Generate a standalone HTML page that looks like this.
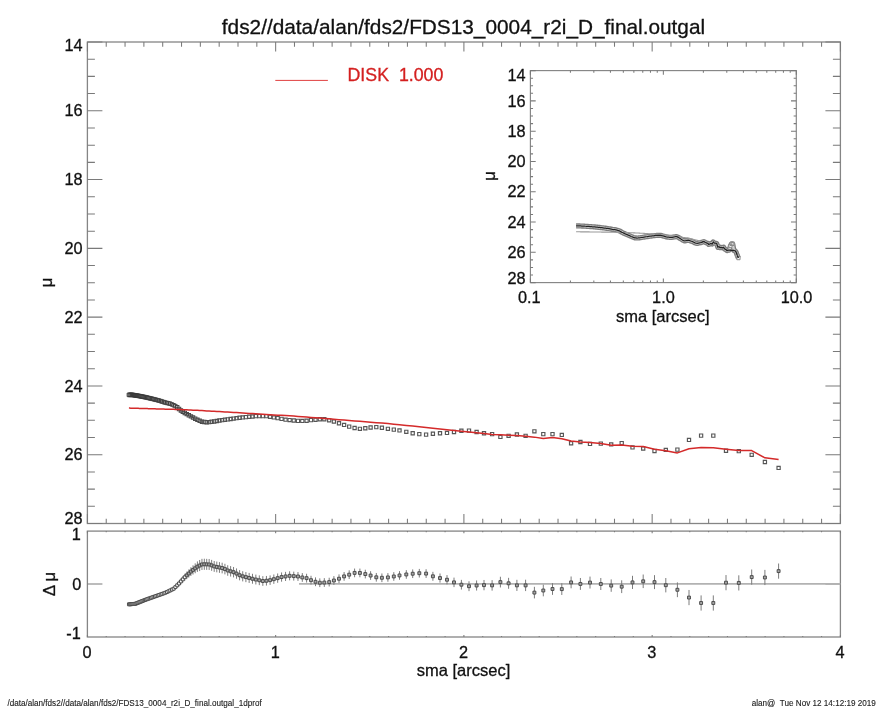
<!DOCTYPE html><html><head><meta charset="utf-8"><style>html,body{margin:0;padding:0;background:#fff;}svg{display:block}text{font-family:"Liberation Sans",Arial,sans-serif;}</style></head><body>
<svg width="885" height="708" viewBox="0 0 885 708">
<rect x="87.4" y="42.0" width="753.00" height="481.50" stroke="#858585" stroke-width="1.3" fill="none"/>
<path d="M87.40 523.5v-9.6M87.40 42.0v9.6M106.23 523.5v-4.8M106.23 42.0v4.8M125.05 523.5v-4.8M125.05 42.0v4.8M143.88 523.5v-4.8M143.88 42.0v4.8M162.70 523.5v-4.8M162.70 42.0v4.8M181.53 523.5v-4.8M181.53 42.0v4.8M200.35 523.5v-4.8M200.35 42.0v4.8M219.18 523.5v-4.8M219.18 42.0v4.8M238.00 523.5v-4.8M238.00 42.0v4.8M256.83 523.5v-4.8M256.83 42.0v4.8M275.65 523.5v-9.6M275.65 42.0v9.6M294.48 523.5v-4.8M294.48 42.0v4.8M313.30 523.5v-4.8M313.30 42.0v4.8M332.12 523.5v-4.8M332.12 42.0v4.8M350.95 523.5v-4.8M350.95 42.0v4.8M369.77 523.5v-4.8M369.77 42.0v4.8M388.60 523.5v-4.8M388.60 42.0v4.8M407.42 523.5v-4.8M407.42 42.0v4.8M426.25 523.5v-4.8M426.25 42.0v4.8M445.08 523.5v-4.8M445.08 42.0v4.8M463.90 523.5v-9.6M463.90 42.0v9.6M482.73 523.5v-4.8M482.73 42.0v4.8M501.55 523.5v-4.8M501.55 42.0v4.8M520.38 523.5v-4.8M520.38 42.0v4.8M539.20 523.5v-4.8M539.20 42.0v4.8M558.02 523.5v-4.8M558.02 42.0v4.8M576.85 523.5v-4.8M576.85 42.0v4.8M595.68 523.5v-4.8M595.68 42.0v4.8M614.50 523.5v-4.8M614.50 42.0v4.8M633.32 523.5v-4.8M633.32 42.0v4.8M652.15 523.5v-9.6M652.15 42.0v9.6M670.98 523.5v-4.8M670.98 42.0v4.8M689.80 523.5v-4.8M689.80 42.0v4.8M708.62 523.5v-4.8M708.62 42.0v4.8M727.45 523.5v-4.8M727.45 42.0v4.8M746.27 523.5v-4.8M746.27 42.0v4.8M765.10 523.5v-4.8M765.10 42.0v4.8M783.92 523.5v-4.8M783.92 42.0v4.8M802.75 523.5v-4.8M802.75 42.0v4.8M821.57 523.5v-4.8M821.57 42.0v4.8M840.40 523.5v-9.6M840.40 42.0v9.6M87.4 42.00h15.0M840.4 42.00h-15.0M87.4 59.20h7.5M840.4 59.20h-7.5M87.4 76.39h7.5M840.4 76.39h-7.5M87.4 93.59h7.5M840.4 93.59h-7.5M87.4 110.79h15.0M840.4 110.79h-15.0M87.4 127.98h7.5M840.4 127.98h-7.5M87.4 145.18h7.5M840.4 145.18h-7.5M87.4 162.38h7.5M840.4 162.38h-7.5M87.4 179.57h15.0M840.4 179.57h-15.0M87.4 196.77h7.5M840.4 196.77h-7.5M87.4 213.96h7.5M840.4 213.96h-7.5M87.4 231.16h7.5M840.4 231.16h-7.5M87.4 248.36h15.0M840.4 248.36h-15.0M87.4 265.55h7.5M840.4 265.55h-7.5M87.4 282.75h7.5M840.4 282.75h-7.5M87.4 299.95h7.5M840.4 299.95h-7.5M87.4 317.14h15.0M840.4 317.14h-15.0M87.4 334.34h7.5M840.4 334.34h-7.5M87.4 351.54h7.5M840.4 351.54h-7.5M87.4 368.73h7.5M840.4 368.73h-7.5M87.4 385.93h15.0M840.4 385.93h-15.0M87.4 403.12h7.5M840.4 403.12h-7.5M87.4 420.32h7.5M840.4 420.32h-7.5M87.4 437.52h7.5M840.4 437.52h-7.5M87.4 454.71h15.0M840.4 454.71h-15.0M87.4 471.91h7.5M840.4 471.91h-7.5M87.4 489.11h7.5M840.4 489.11h-7.5M87.4 506.30h7.5M840.4 506.30h-7.5M87.4 523.50h15.0M840.4 523.50h-15.0" stroke="#7a7a7a" stroke-width="1.05"/>
<rect x="87.4" y="531.1" width="753.00" height="105.90" stroke="#858585" stroke-width="1.3" fill="none"/>
<path d="M87.40 637.0v-2.1M87.40 531.1v2.1M106.23 637.0v-1.1M106.23 531.1v1.1M125.05 637.0v-1.1M125.05 531.1v1.1M143.88 637.0v-1.1M143.88 531.1v1.1M162.70 637.0v-1.1M162.70 531.1v1.1M181.53 637.0v-1.1M181.53 531.1v1.1M200.35 637.0v-1.1M200.35 531.1v1.1M219.18 637.0v-1.1M219.18 531.1v1.1M238.00 637.0v-1.1M238.00 531.1v1.1M256.83 637.0v-1.1M256.83 531.1v1.1M275.65 637.0v-2.1M275.65 531.1v2.1M294.48 637.0v-1.1M294.48 531.1v1.1M313.30 637.0v-1.1M313.30 531.1v1.1M332.12 637.0v-1.1M332.12 531.1v1.1M350.95 637.0v-1.1M350.95 531.1v1.1M369.77 637.0v-1.1M369.77 531.1v1.1M388.60 637.0v-1.1M388.60 531.1v1.1M407.42 637.0v-1.1M407.42 531.1v1.1M426.25 637.0v-1.1M426.25 531.1v1.1M445.08 637.0v-1.1M445.08 531.1v1.1M463.90 637.0v-2.1M463.90 531.1v2.1M482.73 637.0v-1.1M482.73 531.1v1.1M501.55 637.0v-1.1M501.55 531.1v1.1M520.38 637.0v-1.1M520.38 531.1v1.1M539.20 637.0v-1.1M539.20 531.1v1.1M558.02 637.0v-1.1M558.02 531.1v1.1M576.85 637.0v-1.1M576.85 531.1v1.1M595.68 637.0v-1.1M595.68 531.1v1.1M614.50 637.0v-1.1M614.50 531.1v1.1M633.32 637.0v-1.1M633.32 531.1v1.1M652.15 637.0v-2.1M652.15 531.1v2.1M670.98 637.0v-1.1M670.98 531.1v1.1M689.80 637.0v-1.1M689.80 531.1v1.1M708.62 637.0v-1.1M708.62 531.1v1.1M727.45 637.0v-1.1M727.45 531.1v1.1M746.27 637.0v-1.1M746.27 531.1v1.1M765.10 637.0v-1.1M765.10 531.1v1.1M783.92 637.0v-1.1M783.92 531.1v1.1M802.75 637.0v-1.1M802.75 531.1v1.1M821.57 637.0v-1.1M821.57 531.1v1.1M840.40 637.0v-2.1M840.40 531.1v2.1M87.4 583.9h15M840.4 583.9h-15" stroke="#7a7a7a" stroke-width="1.05"/>
<path d="M299 583.9H840.4" stroke="#b2b2b2" stroke-width="1.8"/>
<rect x="530.4" y="70.6" width="265.90" height="212.00" stroke="#858585" stroke-width="1.15" fill="none"/>
<path d="M530.40 282.6v-4.2M530.40 70.6v4.2M570.42 282.6v-2.1M570.42 70.6v2.1M593.83 282.6v-2.1M593.83 70.6v2.1M610.44 282.6v-2.1M610.44 70.6v2.1M623.33 282.6v-2.1M623.33 70.6v2.1M633.86 282.6v-2.1M633.86 70.6v2.1M642.76 282.6v-2.1M642.76 70.6v2.1M650.47 282.6v-2.1M650.47 70.6v2.1M657.27 282.6v-2.1M657.27 70.6v2.1M663.35 282.6v-4.2M663.35 70.6v4.2M663.35 282.6v-4.2M663.35 70.6v4.2M703.37 282.6v-2.1M703.37 70.6v2.1M726.78 282.6v-2.1M726.78 70.6v2.1M743.39 282.6v-2.1M743.39 70.6v2.1M756.28 282.6v-2.1M756.28 70.6v2.1M766.81 282.6v-2.1M766.81 70.6v2.1M775.71 282.6v-2.1M775.71 70.6v2.1M783.42 282.6v-2.1M783.42 70.6v2.1M790.22 282.6v-2.1M790.22 70.6v2.1M796.30 282.6v-4.2M796.30 70.6v4.2M530.4 70.60h5.3M796.3 70.60h-5.3M530.4 78.17h2.65M796.3 78.17h-2.65M530.4 85.74h2.65M796.3 85.74h-2.65M530.4 93.31h2.65M796.3 93.31h-2.65M530.4 100.89h5.3M796.3 100.89h-5.3M530.4 108.46h2.65M796.3 108.46h-2.65M530.4 116.03h2.65M796.3 116.03h-2.65M530.4 123.60h2.65M796.3 123.60h-2.65M530.4 131.17h5.3M796.3 131.17h-5.3M530.4 138.74h2.65M796.3 138.74h-2.65M530.4 146.31h2.65M796.3 146.31h-2.65M530.4 153.89h2.65M796.3 153.89h-2.65M530.4 161.46h5.3M796.3 161.46h-5.3M530.4 169.03h2.65M796.3 169.03h-2.65M530.4 176.60h2.65M796.3 176.60h-2.65M530.4 184.17h2.65M796.3 184.17h-2.65M530.4 191.74h5.3M796.3 191.74h-5.3M530.4 199.31h2.65M796.3 199.31h-2.65M530.4 206.89h2.65M796.3 206.89h-2.65M530.4 214.46h2.65M796.3 214.46h-2.65M530.4 222.03h5.3M796.3 222.03h-5.3M530.4 229.60h2.65M796.3 229.60h-2.65M530.4 237.17h2.65M796.3 237.17h-2.65M530.4 244.74h2.65M796.3 244.74h-2.65M530.4 252.31h5.3M796.3 252.31h-5.3M530.4 259.89h2.65M796.3 259.89h-2.65M530.4 267.46h2.65M796.3 267.46h-2.65M530.4 275.03h2.65M796.3 275.03h-2.65M530.4 282.60h5.3M796.3 282.60h-5.3" stroke="#7a7a7a" stroke-width="1.05"/>
<g fill="none"><path d="M127.13 393.07h3.60v3.60h-3.60z" stroke="#383838" stroke-width="0.90"/><path d="M127.98 393.05h3.60v3.60h-3.60z" stroke="#383838" stroke-width="0.90"/><path d="M128.85 393.03h3.60v3.60h-3.60z" stroke="#383838" stroke-width="0.90"/><path d="M129.74 393.01h3.60v3.60h-3.60z" stroke="#383838" stroke-width="0.90"/><path d="M130.64 393.10h3.60v3.60h-3.60z" stroke="#383838" stroke-width="0.90"/><path d="M131.57 393.25h3.60v3.60h-3.60z" stroke="#383838" stroke-width="0.90"/><path d="M132.51 393.41h3.60v3.60h-3.60z" stroke="#383838" stroke-width="0.90"/><path d="M133.47 393.56h3.60v3.60h-3.60z" stroke="#383838" stroke-width="0.90"/><path d="M134.45 393.72h3.60v3.60h-3.60z" stroke="#383838" stroke-width="0.90"/><path d="M135.46 393.88h3.60v3.60h-3.60z" stroke="#383838" stroke-width="0.90"/><path d="M136.48 394.05h3.59v3.59h-3.59z" stroke="#383838" stroke-width="0.91"/><path d="M137.53 394.25h3.59v3.59h-3.59z" stroke="#383838" stroke-width="0.91"/><path d="M138.59 394.45h3.58v3.58h-3.58z" stroke="#393939" stroke-width="0.91"/><path d="M139.68 394.67h3.58v3.58h-3.58z" stroke="#393939" stroke-width="0.91"/><path d="M140.79 394.88h3.57v3.57h-3.57z" stroke="#393939" stroke-width="0.92"/><path d="M141.92 395.11h3.57v3.57h-3.57z" stroke="#3a3a3a" stroke-width="0.92"/><path d="M143.08 395.33h3.56v3.56h-3.56z" stroke="#3a3a3a" stroke-width="0.92"/><path d="M144.26 395.59h3.56v3.56h-3.56z" stroke="#3b3b3b" stroke-width="0.93"/><path d="M145.47 395.88h3.55v3.55h-3.55z" stroke="#3b3b3b" stroke-width="0.93"/><path d="M146.70 396.17h3.55v3.55h-3.55z" stroke="#3b3b3b" stroke-width="0.93"/><path d="M147.95 396.47h3.54v3.54h-3.54z" stroke="#3c3c3c" stroke-width="0.93"/><path d="M149.23 396.77h3.54v3.54h-3.54z" stroke="#3c3c3c" stroke-width="0.94"/><path d="M150.54 397.08h3.53v3.53h-3.53z" stroke="#3c3c3c" stroke-width="0.94"/><path d="M151.87 397.42h3.53v3.53h-3.53z" stroke="#3d3d3d" stroke-width="0.94"/><path d="M153.23 397.76h3.52v3.52h-3.52z" stroke="#3d3d3d" stroke-width="0.95"/><path d="M154.62 398.11h3.52v3.52h-3.52z" stroke="#3e3e3e" stroke-width="0.95"/><path d="M156.04 398.47h3.51v3.51h-3.51z" stroke="#3e3e3e" stroke-width="0.96"/><path d="M157.48 398.86h3.51v3.51h-3.51z" stroke="#3f3f3f" stroke-width="0.96"/><path d="M158.96 399.34h3.50v3.50h-3.50z" stroke="#3f3f3f" stroke-width="0.96"/><path d="M160.46 399.84h3.49v3.49h-3.49z" stroke="#404040" stroke-width="0.97"/><path d="M162.00 400.34h3.49v3.49h-3.49z" stroke="#404040" stroke-width="0.97"/><path d="M163.57 400.83h3.48v3.48h-3.48z" stroke="#404040" stroke-width="0.97"/><path d="M165.17 401.21h3.47v3.47h-3.47z" stroke="#414141" stroke-width="0.98"/><path d="M166.80 401.59h3.47v3.47h-3.47z" stroke="#414141" stroke-width="0.98"/><path d="M168.47 401.98h3.46v3.46h-3.46z" stroke="#424242" stroke-width="0.99"/><path d="M170.17 402.69h3.45v3.45h-3.45z" stroke="#424242" stroke-width="0.99"/><path d="M171.91 403.51h3.45v3.45h-3.45z" stroke="#434343" stroke-width="1.00"/><path d="M173.68 404.35h3.44v3.44h-3.44z" stroke="#444444" stroke-width="1.00"/><path d="M175.48 405.60h3.43v3.43h-3.43z" stroke="#444444" stroke-width="1.01"/><path d="M177.33 407.29h3.42v3.42h-3.42z" stroke="#454545" stroke-width="1.01"/><path d="M179.21 408.70h3.42v3.42h-3.42z" stroke="#454545" stroke-width="1.01"/><path d="M181.13 409.99h3.41v3.41h-3.41z" stroke="#464646" stroke-width="1.02"/><path d="M183.09 411.30h3.40v3.40h-3.40z" stroke="#464646" stroke-width="1.02"/><path d="M185.09 412.41h3.39v3.39h-3.39z" stroke="#474747" stroke-width="1.03"/><path d="M187.14 413.54h3.38v3.38h-3.38z" stroke="#484848" stroke-width="1.03"/><path d="M189.22 414.69h3.38v3.38h-3.38z" stroke="#484848" stroke-width="1.04"/><path d="M191.35 415.85h3.37v3.37h-3.37z" stroke="#494949" stroke-width="1.05"/><path d="M193.51 417.03h3.36v3.36h-3.36z" stroke="#4a4a4a" stroke-width="1.05"/><path d="M195.73 418.11h3.35v3.35h-3.35z" stroke="#4a4a4a" stroke-width="1.06"/><path d="M197.99 419.12h3.34v3.34h-3.34z" stroke="#4b4b4b" stroke-width="1.06"/><path d="M200.29 420.06h3.33v3.33h-3.33z" stroke="#4c4c4c" stroke-width="1.07"/><path d="M202.65 420.31h3.32v3.32h-3.32z" stroke="#4c4c4c" stroke-width="1.07"/><path d="M205.05 420.57h3.31v3.31h-3.31z" stroke="#4d4d4d" stroke-width="1.08"/><path d="M207.50 420.43h3.30v3.30h-3.30z" stroke="#4e4e4e" stroke-width="1.09"/><path d="M210.00 420.13h3.29v3.29h-3.29z" stroke="#4f4f4f" stroke-width="1.09"/><path d="M212.55 419.82h3.28v3.28h-3.28z" stroke="#4f4f4f" stroke-width="1.10"/><path d="M215.16 419.38h3.27v3.27h-3.27z" stroke="#505050" stroke-width="1.11"/><path d="M217.82 418.90h3.26v3.26h-3.26z" stroke="#515151" stroke-width="1.11"/><path d="M220.53 418.48h3.25v3.25h-3.25z" stroke="#525252" stroke-width="1.12"/><path d="M223.30 418.12h3.24v3.24h-3.24z" stroke="#535353" stroke-width="1.13"/><path d="M226.12 417.75h3.22v3.22h-3.22z" stroke="#545454" stroke-width="1.13"/><path d="M229.00 417.38h3.21v3.21h-3.21z" stroke="#555555" stroke-width="1.14"/><path d="M231.95 416.99h3.20v3.20h-3.20z" stroke="#555555" stroke-width="1.15"/><path d="M234.94 416.59h3.20v3.20h-3.20z" stroke="#565656" stroke-width="1.15"/><path d="M238.00 416.19h3.20v3.20h-3.20z" stroke="#565656" stroke-width="1.15"/><path d="M241.12 415.83h3.20v3.20h-3.20z" stroke="#565656" stroke-width="1.15"/><path d="M244.30 415.51h3.20v3.20h-3.20z" stroke="#565656" stroke-width="1.15"/><path d="M247.55 415.18h3.20v3.20h-3.20z" stroke="#565656" stroke-width="1.15"/><path d="M250.87 414.85h3.20v3.20h-3.20z" stroke="#565656" stroke-width="1.15"/><path d="M254.25 414.50h3.20v3.20h-3.20z" stroke="#565656" stroke-width="1.15"/><path d="M257.71 414.50h3.20v3.20h-3.20z" stroke="#565656" stroke-width="1.15"/><path d="M261.23 414.50h3.20v3.20h-3.20z" stroke="#565656" stroke-width="1.15"/><path d="M264.83 414.50h3.20v3.20h-3.20z" stroke="#565656" stroke-width="1.15"/><path d="M268.50 415.11h3.20v3.20h-3.20z" stroke="#565656" stroke-width="1.15"/><path d="M272.24 415.80h3.20v3.20h-3.20z" stroke="#565656" stroke-width="1.15"/><path d="M276.06 416.53h3.20v3.20h-3.20z" stroke="#565656" stroke-width="1.15"/><path d="M279.97 417.28h3.20v3.20h-3.20z" stroke="#565656" stroke-width="1.15"/><path d="M283.95 418.05h3.20v3.20h-3.20z" stroke="#565656" stroke-width="1.15"/><path d="M288.01 418.47h3.20v3.20h-3.20z" stroke="#565656" stroke-width="1.15"/><path d="M292.15 418.87h3.20v3.20h-3.20z" stroke="#565656" stroke-width="1.15"/><path d="M296.38 419.27h3.20v3.20h-3.20z" stroke="#565656" stroke-width="1.15"/><path d="M300.70 419.30h3.20v3.20h-3.20z" stroke="#565656" stroke-width="1.15"/><path d="M305.00 419.10h3.20v3.20h-3.20z" stroke="#565656" stroke-width="1.15"/><path d="M309.40 418.50h3.20v3.20h-3.20z" stroke="#565656" stroke-width="1.15"/><path d="M313.90 418.20h3.20v3.20h-3.20z" stroke="#565656" stroke-width="1.15"/><path d="M318.20 417.60h3.20v3.20h-3.20z" stroke="#565656" stroke-width="1.15"/><path d="M322.70 417.60h3.20v3.20h-3.20z" stroke="#565656" stroke-width="1.15"/><path d="M327.60 418.70h3.20v3.20h-3.20z" stroke="#565656" stroke-width="1.15"/><path d="M332.30 419.90h3.20v3.20h-3.20z" stroke="#565656" stroke-width="1.15"/><path d="M337.40 421.60h3.20v3.20h-3.20z" stroke="#565656" stroke-width="1.15"/><path d="M342.50 423.30h3.20v3.20h-3.20z" stroke="#565656" stroke-width="1.15"/><path d="M347.60 425.00h3.20v3.20h-3.20z" stroke="#565656" stroke-width="1.15"/><path d="M353.00 426.40h3.20v3.20h-3.20z" stroke="#565656" stroke-width="1.15"/><path d="M358.30 427.20h3.20v3.20h-3.20z" stroke="#565656" stroke-width="1.15"/><path d="M363.70 426.60h3.20v3.20h-3.20z" stroke="#565656" stroke-width="1.15"/><path d="M369.00 425.90h3.20v3.20h-3.20z" stroke="#565656" stroke-width="1.15"/><path d="M374.70 425.50h3.20v3.20h-3.20z" stroke="#565656" stroke-width="1.15"/><path d="M380.30 426.10h3.20v3.20h-3.20z" stroke="#565656" stroke-width="1.15"/><path d="M386.30 427.20h3.20v3.20h-3.20z" stroke="#565656" stroke-width="1.15"/><path d="M392.20 428.00h3.20v3.20h-3.20z" stroke="#565656" stroke-width="1.15"/><path d="M397.90 428.80h3.20v3.20h-3.20z" stroke="#565656" stroke-width="1.15"/><path d="M404.70 430.20h3.20v3.20h-3.20z" stroke="#565656" stroke-width="1.15"/><path d="M411.10 431.60h3.20v3.20h-3.20z" stroke="#565656" stroke-width="1.15"/><path d="M417.70 432.50h3.20v3.20h-3.20z" stroke="#565656" stroke-width="1.15"/><path d="M424.50 433.00h3.20v3.20h-3.20z" stroke="#565656" stroke-width="1.15"/><path d="M431.30 432.10h3.20v3.20h-3.20z" stroke="#565656" stroke-width="1.15"/><path d="M438.40 431.60h3.20v3.20h-3.20z" stroke="#565656" stroke-width="1.15"/><path d="M445.40 431.30h3.20v3.20h-3.20z" stroke="#565656" stroke-width="1.15"/><path d="M452.40 430.40h3.20v3.20h-3.20z" stroke="#565656" stroke-width="1.15"/><path d="M459.80 429.10h3.20v3.20h-3.20z" stroke="#565656" stroke-width="1.15"/><path d="M467.40 429.00h3.20v3.20h-3.20z" stroke="#565656" stroke-width="1.15"/><path d="M475.00 430.40h3.20v3.20h-3.20z" stroke="#565656" stroke-width="1.15"/><path d="M482.40 431.60h3.20v3.20h-3.20z" stroke="#565656" stroke-width="1.15"/><path d="M490.50 432.50h3.20v3.20h-3.20z" stroke="#565656" stroke-width="1.15"/><path d="M498.80 435.30h3.20v3.20h-3.20z" stroke="#565656" stroke-width="1.15"/><path d="M507.00 434.20h3.20v3.20h-3.20z" stroke="#565656" stroke-width="1.15"/><path d="M515.30 432.90h3.20v3.20h-3.20z" stroke="#565656" stroke-width="1.15"/><path d="M524.00 434.20h3.20v3.20h-3.20z" stroke="#565656" stroke-width="1.15"/><path d="M532.80 429.70h3.20v3.20h-3.20z" stroke="#565656" stroke-width="1.15"/><path d="M541.70 432.50h3.20v3.20h-3.20z" stroke="#565656" stroke-width="1.15"/><path d="M550.90 432.50h3.20v3.20h-3.20z" stroke="#565656" stroke-width="1.15"/><path d="M560.20 433.30h3.20v3.20h-3.20z" stroke="#565656" stroke-width="1.15"/><path d="M569.50 441.60h3.20v3.20h-3.20z" stroke="#565656" stroke-width="1.15"/><path d="M578.80 440.40h3.20v3.20h-3.20z" stroke="#565656" stroke-width="1.15"/><path d="M588.40 442.30h3.20v3.20h-3.20z" stroke="#565656" stroke-width="1.15"/><path d="M599.20 442.00h3.20v3.20h-3.20z" stroke="#565656" stroke-width="1.15"/><path d="M609.60 442.80h3.20v3.20h-3.20z" stroke="#565656" stroke-width="1.15"/><path d="M620.10 441.50h3.20v3.20h-3.20z" stroke="#565656" stroke-width="1.15"/><path d="M630.90 445.80h3.20v3.20h-3.20z" stroke="#565656" stroke-width="1.15"/><path d="M641.60 446.90h3.20v3.20h-3.20z" stroke="#565656" stroke-width="1.15"/><path d="M652.90 449.40h3.20v3.20h-3.20z" stroke="#565656" stroke-width="1.15"/><path d="M664.20 448.30h3.20v3.20h-3.20z" stroke="#565656" stroke-width="1.15"/><path d="M675.80 448.00h3.20v3.20h-3.20z" stroke="#565656" stroke-width="1.15"/><path d="M687.40 438.30h3.20v3.20h-3.20z" stroke="#565656" stroke-width="1.15"/><path d="M699.50 434.00h3.20v3.20h-3.20z" stroke="#565656" stroke-width="1.15"/><path d="M711.70 434.00h3.20v3.20h-3.20z" stroke="#565656" stroke-width="1.15"/><path d="M724.40 449.10h3.20v3.20h-3.20z" stroke="#565656" stroke-width="1.15"/><path d="M737.20 449.50h3.20v3.20h-3.20z" stroke="#565656" stroke-width="1.15"/><path d="M750.10 453.20h3.20v3.20h-3.20z" stroke="#565656" stroke-width="1.15"/><path d="M763.30 460.40h3.20v3.20h-3.20z" stroke="#565656" stroke-width="1.15"/><path d="M777.00 466.30h3.20v3.20h-3.20z" stroke="#565656" stroke-width="1.15"/></g>
<polyline points="128.93,408.10 129.78,408.11 130.65,408.14 131.54,408.16 132.44,408.19 133.37,408.21 134.31,408.24 135.27,408.27 136.25,408.30 137.25,408.33 138.28,408.36 139.32,408.39 140.38,408.42 141.47,408.45 142.58,408.48 143.71,408.51 144.86,408.54 146.04,408.58 147.24,408.61 148.47,408.65 149.72,408.68 151.00,408.72 152.30,408.76 153.63,408.80 154.99,408.84 156.38,408.88 157.79,408.92 159.23,408.96 160.71,409.00 162.21,409.04 163.74,409.09 165.31,409.13 166.91,409.18 168.54,409.23 170.20,409.27 171.90,409.32 173.63,409.37 175.40,409.42 177.20,409.48 179.04,409.53 180.92,409.58 182.84,409.64 184.79,409.69 186.79,409.80 188.83,409.91 190.91,410.02 193.03,410.14 195.19,410.25 197.40,410.37 199.66,410.50 201.96,410.62 204.31,410.75 206.71,410.88 209.15,411.01 211.65,411.15 214.19,411.28 216.79,411.43 219.45,411.57 222.15,411.73 224.92,411.90 227.73,412.07 230.61,412.25 233.55,412.43 236.54,412.61 239.60,412.80 242.72,412.99 245.90,413.19 249.15,413.39 252.47,413.59 255.85,413.80 259.31,414.01 262.83,414.22 266.43,414.44 270.10,414.67 273.84,414.90 277.66,415.13 281.57,415.37 285.55,415.61 289.61,415.86 293.75,416.12 297.98,416.38 302.30,416.69 306.60,417.03 311.00,417.38 315.50,417.75 319.80,418.09 324.30,418.45 329.20,418.85 333.90,419.23 339.00,419.64 344.10,420.05 349.20,420.46 354.60,420.89 359.90,421.32 365.30,421.75 370.60,422.18 376.30,422.64 381.90,423.09 387.90,423.57 393.80,424.15 399.50,424.74 406.30,425.44 412.70,426.11 419.30,426.79 426.10,427.50 432.90,428.21 440.00,428.94 447.00,429.67 454.00,430.40 461.40,431.18 469.00,431.98 476.60,432.78 484.00,433.56 492.10,434.40 500.40,434.80 508.60,435.19 516.90,435.59 525.60,436.35 534.40,437.13 543.30,438.58 552.50,437.55 561.80,438.77 571.10,441.09 580.40,442.00 590.00,442.60 600.80,443.60 611.20,445.30 621.70,445.11 632.50,446.20 643.20,446.48 654.50,449.32 665.80,450.80 677.40,452.90 689.00,448.73 701.10,447.60 713.30,447.65 726.00,449.20 738.80,450.48 751.70,450.61 764.90,457.79 778.60,459.60" stroke="#d42a2a" stroke-width="1.5" fill="none" stroke-linejoin="round"/>
<path d="M128.93 603.10V605.50M129.78 603.08V605.50M130.65 602.99V605.44M131.54 602.90V605.37M132.44 602.80V605.31M133.37 602.71V605.24M134.31 602.61V605.17M135.27 602.51V605.09M136.25 602.12V604.73M137.25 601.71V604.35M138.28 601.29V603.96M139.32 600.86V603.56M140.38 600.42V603.15M141.47 599.97V602.74M142.58 599.52V602.32M143.71 599.05V601.88M144.86 598.58V601.44M146.04 598.12V601.02M147.24 597.68V600.62M148.47 597.23V600.20M149.72 596.77V599.78M151.00 596.30V599.35M152.30 595.82V598.90M153.63 595.33V598.45M154.99 594.83V597.99M156.38 594.32V597.53M157.79 593.81V597.05M159.23 593.27V596.56M160.71 592.73V596.06M162.21 592.18V595.55M163.74 591.62V595.03M165.31 591.04V594.50M166.91 590.30V593.81M168.54 589.47V593.03M170.20 588.61V592.25M171.90 587.57V591.60M173.63 586.52V590.95M175.40 584.69V589.52M177.20 582.68V587.92M179.04 580.63V586.28M180.92 578.39V584.46M182.84 576.09V582.60M184.79 573.76V580.71M186.79 571.60V579.10M188.83 569.44V577.51M190.91 567.24V575.90M193.03 565.30V574.55M195.19 563.36V573.22M197.40 561.41V571.89M199.66 559.99V571.10M201.96 558.84V569.99M204.31 558.73V569.82M206.71 558.85V569.89M209.15 558.98V569.96M211.65 559.89V570.81M214.19 560.99V571.85M216.79 561.55V572.34M219.45 562.11V572.85M222.15 562.69V573.36M224.92 563.79V574.39M227.73 565.22V575.75M230.61 566.09V576.56M233.55 566.98V577.38M236.54 568.43V578.75M239.60 570.09V580.34M242.72 571.22V581.40M245.90 572.06V582.16M249.15 572.92V582.94M252.47 573.79V583.73M255.85 574.62V584.48M259.31 575.39V585.16M262.83 576.17V585.86M266.43 575.96V585.56M270.10 575.41V584.92M273.84 574.47V583.89M277.66 573.46V582.80M281.57 572.45V581.69M285.55 571.86V581.01M289.61 571.28V580.33M293.75 571.64V580.59M297.98 572.06V580.91M302.30 573.05V581.84M306.60 573.75V582.54M311.00 575.78V584.56M315.50 577.38V586.15M319.80 578.35V587.12M324.30 578.15V586.91M329.20 577.72V586.48M333.90 576.13V584.87M339.00 574.37V583.10M344.10 572.04V580.76M349.20 570.31V579.03M354.60 568.55V577.25M359.90 568.59V577.29M365.30 569.71V578.40M370.60 571.20V579.89M376.30 572.97V581.64M381.90 573.46V582.12M387.90 573.09V581.74M393.80 572.14V580.79M399.50 571.13V579.76M406.30 570.14V578.77M412.70 569.43V578.04M419.30 568.91V577.51M426.10 569.22V577.98M432.90 571.83V580.77M440.00 573.48V582.61M447.00 575.08V584.39M454.00 577.62V587.11M461.40 579.86V589.54M469.00 581.26V591.14M476.60 580.46V590.55M484.00 579.98V590.26M492.10 580.14V590.64M500.40 576.74V587.46M508.60 577.83V588.77M516.90 579.80V590.95M525.60 579.71V591.09M534.40 586.80V598.40M543.30 584.67V596.33M552.50 583.14V594.86M561.80 583.21V594.98M571.10 576.49V588.31M580.40 577.99V589.87M590.00 576.59V588.53M600.80 577.99V590.01M611.20 579.41V591.81M621.70 580.30V593.08M632.50 575.81V588.97M643.20 574.52V588.08M654.50 575.15V589.11M665.80 578.02V592.38M677.40 582.38V597.16M689.00 589.97V605.17M701.10 595.40V610.60M713.30 595.40V610.60M726.00 575.06V590.26M738.80 575.31V590.51M751.70 569.49V584.69M764.90 569.89V585.09M778.60 563.50V578.70" stroke="#7c7c7c" stroke-width="1"/>
<g stroke="#484848" stroke-width="0.95"><path d="M127.48 602.85h2.9v2.9h-2.9z" fill="#fff"/><path d="M128.33 602.84h2.9v2.9h-2.9z" fill="#fff"/><path d="M129.20 602.76h2.9v2.9h-2.9z" fill="#fff"/><path d="M130.09 602.69h2.9v2.9h-2.9z" fill="#fff"/><path d="M130.99 602.61h2.9v2.9h-2.9z" fill="#fff"/><path d="M131.92 602.52h2.9v2.9h-2.9z" fill="#fff"/><path d="M132.86 602.44h2.9v2.9h-2.9z" fill="#fff"/><path d="M133.82 602.35h2.9v2.9h-2.9z" fill="#fff"/><path d="M134.80 601.97h2.9v2.9h-2.9z" fill="#fff"/><path d="M135.80 601.58h2.9v2.9h-2.9z" fill="#fff"/><path d="M136.83 601.17h2.9v2.9h-2.9z" fill="#fff"/><path d="M137.87 600.76h2.9v2.9h-2.9z" fill="#fff"/><path d="M138.93 600.34h2.9v2.9h-2.9z" fill="#fff"/><path d="M140.02 599.91h2.9v2.9h-2.9z" fill="#fff"/><path d="M141.13 599.47h2.9v2.9h-2.9z" fill="#fff"/><path d="M142.26 599.02h2.9v2.9h-2.9z" fill="#fff"/><path d="M143.41 598.56h2.9v2.9h-2.9z" fill="#fff"/><path d="M144.59 598.12h2.9v2.9h-2.9z" fill="#fff"/><path d="M145.79 597.70h2.9v2.9h-2.9z" fill="#fff"/><path d="M147.02 597.27h2.9v2.9h-2.9z" fill="#fff"/><path d="M148.27 596.82h2.9v2.9h-2.9z" fill="#fff"/><path d="M149.55 596.37h2.9v2.9h-2.9z" fill="#fff"/><path d="M150.85 595.91h2.9v2.9h-2.9z" fill="#fff"/><path d="M152.18 595.44h2.9v2.9h-2.9z" fill="#fff"/><path d="M153.54 594.96h2.9v2.9h-2.9z" fill="#fff"/><path d="M154.93 594.48h2.9v2.9h-2.9z" fill="#fff"/><path d="M156.34 593.98h2.9v2.9h-2.9z" fill="#fff"/><path d="M157.78 593.47h2.9v2.9h-2.9z" fill="#fff"/><path d="M159.26 592.95h2.9v2.9h-2.9z" fill="#fff"/><path d="M160.76 592.42h2.9v2.9h-2.9z" fill="#fff"/><path d="M162.29 591.88h2.9v2.9h-2.9z" fill="#fff"/><path d="M163.86 591.32h2.9v2.9h-2.9z" fill="#fff"/><path d="M165.46 590.60h2.9v2.9h-2.9z" fill="#fff"/><path d="M167.09 589.80h2.9v2.9h-2.9z" fill="#fff"/><path d="M168.75 588.98h2.9v2.9h-2.9z" fill="#fff"/><path d="M170.45 588.14h2.9v2.9h-2.9z" fill="#fff"/><path d="M172.18 587.28h2.9v2.9h-2.9z" fill="#fff"/><path d="M173.95 585.65h2.9v2.9h-2.9z" fill="#fff"/><path d="M175.75 583.85h2.9v2.9h-2.9z" fill="#fff"/><path d="M177.59 582.01h2.9v2.9h-2.9z" fill="#fff"/><path d="M179.47 579.97h2.9v2.9h-2.9z" fill="#fff"/><path d="M181.39 577.90h2.9v2.9h-2.9z" fill="#fff"/><path d="M183.34 575.78h2.9v2.9h-2.9z" fill="#fff"/><path d="M185.34 573.90h2.9v2.9h-2.9z" fill="#a8a8a8"/><path d="M187.38 572.03h2.9v2.9h-2.9z" fill="#a8a8a8"/><path d="M189.46 570.12h2.9v2.9h-2.9z" fill="#a8a8a8"/><path d="M191.58 568.47h2.9v2.9h-2.9z" fill="#a8a8a8"/><path d="M193.74 566.84h2.9v2.9h-2.9z" fill="#a8a8a8"/><path d="M195.95 565.20h2.9v2.9h-2.9z" fill="#a8a8a8"/><path d="M198.21 564.09h2.9v2.9h-2.9z" fill="#a8a8a8"/><path d="M200.51 562.97h2.9v2.9h-2.9z" fill="#a8a8a8"/><path d="M202.86 562.83h2.9v2.9h-2.9z" fill="#a8a8a8"/><path d="M205.26 562.92h2.9v2.9h-2.9z" fill="#a8a8a8"/><path d="M207.70 563.02h2.9v2.9h-2.9z" fill="#a8a8a8"/><path d="M210.20 563.90h2.9v2.9h-2.9z" fill="#a8a8a8"/><path d="M212.74 564.97h2.9v2.9h-2.9z" fill="#a8a8a8"/><path d="M215.34 565.50h2.9v2.9h-2.9z" fill="#a8a8a8"/><path d="M218.00 566.03h2.9v2.9h-2.9z" fill="#a8a8a8"/><path d="M220.70 566.58h2.9v2.9h-2.9z" fill="#a8a8a8"/><path d="M223.47 567.64h2.9v2.9h-2.9z" fill="#a8a8a8"/><path d="M226.28 569.03h2.9v2.9h-2.9z" fill="#a8a8a8"/><path d="M229.16 569.87h2.9v2.9h-2.9z" fill="#a8a8a8"/><path d="M232.10 570.73h2.9v2.9h-2.9z" fill="#a8a8a8"/><path d="M235.09 572.14h2.9v2.9h-2.9z" fill="#a8a8a8"/><path d="M238.15 573.77h2.9v2.9h-2.9z" fill="#a8a8a8"/><path d="M241.27 574.86h2.9v2.9h-2.9z" fill="#a8a8a8"/><path d="M244.45 575.66h2.9v2.9h-2.9z" fill="#a8a8a8"/><path d="M247.70 576.48h2.9v2.9h-2.9z" fill="#a8a8a8"/><path d="M251.02 577.31h2.9v2.9h-2.9z" fill="#a8a8a8"/><path d="M254.40 578.10h2.9v2.9h-2.9z" fill="#a8a8a8"/><path d="M257.86 578.83h2.9v2.9h-2.9z" fill="#a8a8a8"/><path d="M261.38 579.57h2.9v2.9h-2.9z" fill="#a8a8a8"/><path d="M264.98 579.31h2.9v2.9h-2.9z" fill="#a8a8a8"/><path d="M268.65 578.72h2.9v2.9h-2.9z" fill="#a8a8a8"/><path d="M272.39 577.73h2.9v2.9h-2.9z" fill="#a8a8a8"/><path d="M276.21 576.68h2.9v2.9h-2.9z" fill="#a8a8a8"/><path d="M280.12 575.62h2.9v2.9h-2.9z" fill="#a8a8a8"/><path d="M284.10 574.98h2.9v2.9h-2.9z" fill="#a8a8a8"/><path d="M288.16 574.36h2.9v2.9h-2.9z" fill="#a8a8a8"/><path d="M292.30 574.67h2.9v2.9h-2.9z" fill="#a8a8a8"/><path d="M296.53 575.04h2.9v2.9h-2.9z" fill="#a8a8a8"/><path d="M300.85 576.00h2.9v2.9h-2.9z" fill="#a8a8a8"/><path d="M305.15 576.70h2.9v2.9h-2.9z" fill="#a8a8a8"/><path d="M309.55 578.72h2.9v2.9h-2.9z" fill="#a8a8a8"/><path d="M314.05 580.32h2.9v2.9h-2.9z" fill="#a8a8a8"/><path d="M318.35 581.28h2.9v2.9h-2.9z" fill="#a8a8a8"/><path d="M322.85 581.08h2.9v2.9h-2.9z" fill="#a8a8a8"/><path d="M327.75 580.65h2.9v2.9h-2.9z" fill="#a8a8a8"/><path d="M332.45 579.05h2.9v2.9h-2.9z" fill="#a8a8a8"/><path d="M337.55 577.28h2.9v2.9h-2.9z" fill="#a8a8a8"/><path d="M342.65 574.95h2.9v2.9h-2.9z" fill="#a8a8a8"/><path d="M347.75 573.22h2.9v2.9h-2.9z" fill="#a8a8a8"/><path d="M353.15 571.45h2.9v2.9h-2.9z" fill="#a8a8a8"/><path d="M358.45 571.49h2.9v2.9h-2.9z" fill="#a8a8a8"/><path d="M363.85 572.61h2.9v2.9h-2.9z" fill="#a8a8a8"/><path d="M369.15 574.09h2.9v2.9h-2.9z" fill="#a8a8a8"/><path d="M374.85 575.86h2.9v2.9h-2.9z" fill="#a8a8a8"/><path d="M380.45 576.34h2.9v2.9h-2.9z" fill="#a8a8a8"/><path d="M386.45 575.96h2.9v2.9h-2.9z" fill="#a8a8a8"/><path d="M392.35 575.02h2.9v2.9h-2.9z" fill="#a8a8a8"/><path d="M398.05 573.99h2.9v2.9h-2.9z" fill="#a8a8a8"/><path d="M404.85 573.01h2.9v2.9h-2.9z" fill="#a8a8a8"/><path d="M411.25 572.28h2.9v2.9h-2.9z" fill="#a8a8a8"/><path d="M417.85 571.76h2.9v2.9h-2.9z" fill="#a8a8a8"/><path d="M424.65 572.15h2.9v2.9h-2.9z" fill="#a8a8a8"/><path d="M431.45 574.85h2.9v2.9h-2.9z" fill="#a8a8a8"/><path d="M438.55 576.60h2.9v2.9h-2.9z" fill="#a8a8a8"/><path d="M445.55 578.29h2.9v2.9h-2.9z" fill="#a8a8a8"/><path d="M452.55 580.91h2.9v2.9h-2.9z" fill="#a8a8a8"/><path d="M459.95 583.25h2.9v2.9h-2.9z" fill="#a8a8a8"/><path d="M467.55 584.75h2.9v2.9h-2.9z" fill="#a8a8a8"/><path d="M475.15 584.06h2.9v2.9h-2.9z" fill="#a8a8a8"/><path d="M482.55 583.67h2.9v2.9h-2.9z" fill="#a8a8a8"/><path d="M490.65 583.94h2.9v2.9h-2.9z" fill="#a8a8a8"/><path d="M498.95 580.65h2.9v2.9h-2.9z" fill="#a8a8a8"/><path d="M507.15 581.85h2.9v2.9h-2.9z" fill="#a8a8a8"/><path d="M515.45 583.92h2.9v2.9h-2.9z" fill="#a8a8a8"/><path d="M524.15 583.95h2.9v2.9h-2.9z" fill="#a8a8a8"/><path d="M532.95 591.15h2.9v2.9h-2.9z" fill="#a8a8a8"/><path d="M541.85 589.05h2.9v2.9h-2.9z" fill="#a8a8a8"/><path d="M551.05 587.55h2.9v2.9h-2.9z" fill="#a8a8a8"/><path d="M560.35 587.65h2.9v2.9h-2.9z" fill="#a8a8a8"/><path d="M569.65 580.95h2.9v2.9h-2.9z" fill="#a8a8a8"/><path d="M578.95 582.48h2.9v2.9h-2.9z" fill="#a8a8a8"/><path d="M588.55 581.11h2.9v2.9h-2.9z" fill="#a8a8a8"/><path d="M599.35 582.55h2.9v2.9h-2.9z" fill="#a8a8a8"/><path d="M609.75 584.16h2.9v2.9h-2.9z" fill="#a8a8a8"/><path d="M620.25 585.24h2.9v2.9h-2.9z" fill="#a8a8a8"/><path d="M631.05 580.94h2.9v2.9h-2.9z" fill="#a8a8a8"/><path d="M641.75 579.85h2.9v2.9h-2.9z" fill="#a8a8a8"/><path d="M653.05 580.68h2.9v2.9h-2.9z" fill="#a8a8a8"/><path d="M664.35 583.75h2.9v2.9h-2.9z" fill="#a8a8a8"/><path d="M675.95 588.32h2.9v2.9h-2.9z" fill="#a8a8a8"/><path d="M687.55 596.12h2.9v2.9h-2.9z" fill="#a8a8a8"/><path d="M699.65 601.55h2.9v2.9h-2.9z" fill="#a8a8a8"/><path d="M711.85 601.55h2.9v2.9h-2.9z" fill="#a8a8a8"/><path d="M724.55 581.21h2.9v2.9h-2.9z" fill="#a8a8a8"/><path d="M737.35 581.46h2.9v2.9h-2.9z" fill="#a8a8a8"/><path d="M750.25 575.64h2.9v2.9h-2.9z" fill="#a8a8a8"/><path d="M763.45 576.04h2.9v2.9h-2.9z" fill="#a8a8a8"/><path d="M777.15 569.65h2.9v2.9h-2.9z" fill="#a8a8a8"/></g>
<polyline points="576.09,225.97 577.26,225.96 578.43,225.95 579.60,225.94 580.77,225.98 581.95,226.05 583.12,226.11 584.29,226.18 585.46,226.25 586.63,226.32 587.80,226.40 588.98,226.48 590.15,226.57 591.32,226.66 592.49,226.76 593.66,226.86 594.83,226.95 596.01,227.07 597.18,227.19 598.35,227.32 599.52,227.45 600.69,227.58 601.87,227.72 603.04,227.86 604.21,228.01 605.38,228.17 606.55,228.32 607.72,228.49 608.90,228.71 610.07,228.92 611.24,229.14 612.41,229.36 613.58,229.52 614.75,229.69 615.93,229.86 617.10,230.17 618.27,230.53 619.44,230.90 620.61,231.45 621.78,232.19 622.96,232.81 624.13,233.37 625.30,233.95 626.47,234.43 627.64,234.93 628.81,235.43 629.99,235.94 631.16,236.46 632.33,236.93 633.50,237.38 634.67,237.79 635.84,237.90 637.02,238.01 638.19,237.95 639.36,237.81 640.53,237.67 641.70,237.48 642.87,237.26 644.05,237.08 645.22,236.92 646.39,236.75 647.56,236.58 648.73,236.41 649.90,236.23 651.08,236.06 652.25,235.90 653.42,235.76 654.59,235.61 655.76,235.46 656.93,235.31 658.11,235.31 659.28,235.31 660.45,235.31 661.62,235.58 662.79,235.89 663.96,236.21 665.14,236.54 666.31,236.88 667.48,237.06 668.65,237.24 669.82,237.41 670.99,237.43 672.14,237.34 673.29,237.07 674.44,236.94 675.52,236.68 676.62,236.68 677.80,237.16 678.92,237.69 680.10,238.44 681.26,239.19 682.39,239.94 683.57,240.55 684.71,240.90 685.84,240.64 686.93,240.33 688.08,240.16 689.19,240.42 690.35,240.90 691.48,241.26 692.54,241.61 693.78,242.23 694.93,242.84 696.09,243.24 697.26,243.46 698.41,243.06 699.59,242.84 700.72,242.71 701.83,242.31 702.99,241.74 704.15,241.70 705.29,242.31 706.37,242.84 707.54,243.24 708.71,244.47 709.85,243.99 710.98,243.41 712.13,243.99 713.28,242.01 714.42,243.24 715.57,243.24 716.72,243.59 717.84,247.24 718.94,246.72 720.05,247.55 721.28,247.42 722.44,247.77 723.58,247.20 724.74,249.09 725.86,249.58 727.02,250.68 728.16,250.19 729.31,250.06 730.43,245.79 731.58,243.90 732.72,243.90 733.88,250.55 735.03,250.72 736.16,252.35 737.29,255.52 738.45,258.12" stroke="#7c7c7c" stroke-width="5.2" fill="none" stroke-linejoin="round"/>
<polyline points="576.09,225.97 577.26,225.96 578.43,225.95 579.60,225.94 580.77,225.98 581.95,226.05 583.12,226.11 584.29,226.18 585.46,226.25 586.63,226.32 587.80,226.40 588.98,226.48 590.15,226.57 591.32,226.66 592.49,226.76 593.66,226.86 594.83,226.95 596.01,227.07 597.18,227.19 598.35,227.32 599.52,227.45 600.69,227.58 601.87,227.72 603.04,227.86 604.21,228.01 605.38,228.17 606.55,228.32 607.72,228.49 608.90,228.71 610.07,228.92 611.24,229.14 612.41,229.36 613.58,229.52 614.75,229.69 615.93,229.86 617.10,230.17 618.27,230.53 619.44,230.90 620.61,231.45 621.78,232.19 622.96,232.81 624.13,233.37 625.30,233.95 626.47,234.43 627.64,234.93 628.81,235.43 629.99,235.94 631.16,236.46 632.33,236.93 633.50,237.38 634.67,237.79 635.84,237.90 637.02,238.01 638.19,237.95 639.36,237.81 640.53,237.67 641.70,237.48 642.87,237.26 644.05,237.08 645.22,236.92 646.39,236.75 647.56,236.58 648.73,236.41 649.90,236.23 651.08,236.06 652.25,235.90 653.42,235.76 654.59,235.61 655.76,235.46 656.93,235.31 658.11,235.31 659.28,235.31 660.45,235.31 661.62,235.58 662.79,235.89 663.96,236.21 665.14,236.54 666.31,236.88 667.48,237.06 668.65,237.24 669.82,237.41 670.99,237.43 672.14,237.34 673.29,237.07 674.44,236.94 675.52,236.68 676.62,236.68 677.80,237.16 678.92,237.69 680.10,238.44 681.26,239.19 682.39,239.94 683.57,240.55 684.71,240.90 685.84,240.64 686.93,240.33 688.08,240.16 689.19,240.42 690.35,240.90 691.48,241.26 692.54,241.61 693.78,242.23 694.93,242.84 696.09,243.24 697.26,243.46 698.41,243.06 699.59,242.84 700.72,242.71 701.83,242.31 702.99,241.74 704.15,241.70 705.29,242.31 706.37,242.84 707.54,243.24 708.71,244.47 709.85,243.99 710.98,243.41 712.13,243.99 713.28,242.01 714.42,243.24 715.57,243.24 716.72,243.59 717.84,247.24 718.94,246.72 720.05,247.55 721.28,247.42 722.44,247.77 723.58,247.20 724.74,249.09 725.86,249.58 727.02,250.68 728.16,250.19 729.31,250.06 730.43,245.79 731.58,243.90 732.72,243.90 733.88,250.55 735.03,250.72 736.16,252.35 737.29,255.52 738.45,258.12" stroke="#d0d0d0" stroke-width="2.5" fill="none" stroke-linejoin="round"/>
<path d="M728.83 244.19h3.2v3.2h-3.2zM729.98 242.30h3.2v3.2h-3.2zM731.12 242.30h3.2v3.2h-3.2zM735.69 253.92h3.2v3.2h-3.2zM736.85 256.52h3.2v3.2h-3.2z" stroke="#8a8a8a" stroke-width="1.0" fill="#fff"/>
<polyline points="576.09,231.79 577.26,231.80 578.43,231.81 579.60,231.82 580.77,231.83 581.95,231.84 583.12,231.85 584.29,231.86 585.46,231.88 586.63,231.89 587.80,231.90 588.98,231.92 590.15,231.93 591.32,231.94 592.49,231.96 593.66,231.97 594.83,231.99 596.01,232.00 597.18,232.02 598.35,232.03 599.52,232.05 600.69,232.06 601.87,232.08 603.04,232.10 604.21,232.11 605.38,232.13 606.55,232.15 607.72,232.17 608.90,232.19 610.07,232.21 611.24,232.23 612.41,232.25 613.58,232.27 614.75,232.29 615.93,232.31 617.10,232.33 618.27,232.35 619.44,232.37 620.61,232.40 621.78,232.42 622.96,232.44 624.13,232.47 625.30,232.49 626.47,232.54 627.64,232.59 628.81,232.64 629.99,232.69 631.16,232.74 632.33,232.79 633.50,232.85 634.67,232.90 635.84,232.96 637.02,233.01 638.19,233.07 639.36,233.13 640.53,233.19 641.70,233.25 642.87,233.32 644.05,233.39 645.22,233.46 646.39,233.54 647.56,233.62 648.73,233.70 649.90,233.78 651.08,233.86 652.25,233.94 653.42,234.03 654.59,234.12 655.76,234.21 656.93,234.30 658.11,234.39 659.28,234.49 660.45,234.58 661.62,234.68 662.79,234.78 663.96,234.89 665.14,234.99 666.31,235.10 667.48,235.21 668.65,235.32 669.82,235.43 670.99,235.57 672.14,235.72 673.29,235.88 674.44,236.04 675.52,236.19 676.62,236.35 677.80,236.52 678.92,236.69 680.10,236.87 681.26,237.05 682.39,237.23 683.57,237.42 684.71,237.61 685.84,237.80 686.93,237.99 688.08,238.19 689.19,238.39 690.35,238.60 691.48,238.86 692.54,239.12 693.78,239.43 694.93,239.72 696.09,240.02 697.26,240.33 698.41,240.64 699.59,240.97 700.72,241.29 701.83,241.61 702.99,241.95 704.15,242.31 705.29,242.66 706.37,243.00 707.54,243.37 708.71,243.55 709.85,243.72 710.98,243.89 712.13,244.23 713.28,244.57 714.42,245.21 715.57,244.76 716.72,245.30 717.84,246.32 718.94,246.72 720.05,246.98 721.28,247.42 722.44,248.17 723.58,248.09 724.74,248.57 725.86,248.69 727.02,249.94 728.16,250.59 729.31,251.52 730.43,249.68 731.58,249.18 732.72,249.20 733.88,249.89 735.03,250.45 736.16,250.51 737.29,253.67 738.45,254.47" stroke="#9a9a9a" stroke-width="1.1" fill="none"/>
<polyline points="576.09,225.97 577.26,225.96 578.43,225.95 579.60,225.94 580.77,225.98 581.95,226.05 583.12,226.11 584.29,226.18 585.46,226.25 586.63,226.32 587.80,226.40 588.98,226.48 590.15,226.57 591.32,226.66 592.49,226.76 593.66,226.86 594.83,226.95 596.01,227.07 597.18,227.19 598.35,227.32 599.52,227.45 600.69,227.58 601.87,227.72 603.04,227.86 604.21,228.01 605.38,228.17 606.55,228.32 607.72,228.49 608.90,228.71 610.07,228.92 611.24,229.14 612.41,229.36 613.58,229.52 614.75,229.69 615.93,229.86 617.10,230.17 618.27,230.53 619.44,230.90 620.61,231.45 621.78,232.19 622.96,232.81 624.13,233.37 625.30,233.95 626.47,234.43 627.64,234.93 628.81,235.43 629.99,235.94 631.16,236.46 632.33,236.93 633.50,237.38 634.67,237.79 635.84,237.90 637.02,238.01 638.19,237.95 639.36,237.81 640.53,237.67 641.70,237.48 642.87,237.26 644.05,237.08 645.22,236.92 646.39,236.75 647.56,236.58 648.73,236.41 649.90,236.23 651.08,236.06 652.25,235.90 653.42,235.76 654.59,235.61 655.76,235.46 656.93,235.31 658.11,235.31 659.28,235.31 660.45,235.31 661.62,235.58 662.79,235.89 663.96,236.21 665.14,236.54 666.31,236.88 667.48,237.06 668.65,237.24 669.82,237.41 670.99,237.43 672.14,237.34 673.29,237.07 674.44,236.94 675.52,236.68 676.62,236.68 677.80,237.16 678.92,237.69 680.10,238.44 681.26,239.19 682.39,239.94 683.57,240.55 684.71,240.90 685.84,240.64 686.93,240.33 688.08,240.16 689.19,240.42 690.35,240.90 691.48,241.26 692.54,241.61 693.78,242.23 694.93,242.84 696.09,243.24 697.26,243.46 698.41,243.06 699.59,242.84 700.72,242.71 701.83,242.31 702.99,241.74 704.15,241.70 705.29,242.31 706.37,242.84 707.54,243.24 708.71,244.47 709.85,243.99 710.98,243.41 712.13,243.99 713.28,242.01 714.42,243.24 715.57,243.24 716.72,243.59 717.84,247.24 718.94,246.72 720.05,247.55 721.28,247.42 722.44,247.77 723.58,247.20 724.74,249.09 725.86,249.58 727.02,250.68 728.16,250.19 729.31,250.06 733.88,250.55 735.03,250.72 736.16,252.35 737.29,255.52 738.45,258.12" stroke="#222" stroke-width="1.25" fill="none"/>
<text x="463.50" y="33.60" font-size="20.8" text-anchor="middle" fill="#111" stroke="#111" stroke-width="0.3" >fds2//data/alan/fds2/FDS13_0004_r2i_D_final.outgal</text>
<text x="82.50" y="51.30" font-size="16.3" text-anchor="end" fill="#111" stroke="#111" stroke-width="0.3" >14</text>
<text x="82.50" y="116.49" font-size="16.3" text-anchor="end" fill="#111" stroke="#111" stroke-width="0.3" >16</text>
<text x="82.50" y="185.28" font-size="16.3" text-anchor="end" fill="#111" stroke="#111" stroke-width="0.3" >18</text>
<text x="82.50" y="254.06" font-size="16.3" text-anchor="end" fill="#111" stroke="#111" stroke-width="0.3" >20</text>
<text x="82.50" y="322.85" font-size="16.3" text-anchor="end" fill="#111" stroke="#111" stroke-width="0.3" >22</text>
<text x="82.50" y="391.63" font-size="16.3" text-anchor="end" fill="#111" stroke="#111" stroke-width="0.3" >24</text>
<text x="82.50" y="460.42" font-size="16.3" text-anchor="end" fill="#111" stroke="#111" stroke-width="0.3" >26</text>
<text x="82.50" y="523.61" font-size="16.3" text-anchor="end" fill="#111" stroke="#111" stroke-width="0.3" >28</text>
<text x="80.80" y="540.31" font-size="16.3" text-anchor="end" fill="#111" stroke="#111" stroke-width="0.3" >1</text>
<text x="81.30" y="590.11" font-size="16.3" text-anchor="end" fill="#111" stroke="#111" stroke-width="0.3" >0</text>
<text x="80.80" y="638.61" font-size="16.3" text-anchor="end" fill="#111" stroke="#111" stroke-width="0.3" >-1</text>
<text x="87.10" y="658.00" font-size="16.3" text-anchor="middle" fill="#111" stroke="#111" stroke-width="0.3" >0</text>
<text x="275.35" y="658.00" font-size="16.3" text-anchor="middle" fill="#111" stroke="#111" stroke-width="0.3" >1</text>
<text x="463.60" y="658.00" font-size="16.3" text-anchor="middle" fill="#111" stroke="#111" stroke-width="0.3" >2</text>
<text x="651.85" y="658.00" font-size="16.3" text-anchor="middle" fill="#111" stroke="#111" stroke-width="0.3" >3</text>
<text x="840.10" y="658.00" font-size="16.3" text-anchor="middle" fill="#111" stroke="#111" stroke-width="0.3" >4</text>
<text x="463.50" y="675.80" font-size="16.5" text-anchor="middle" fill="#111" stroke="#111" stroke-width="0.3" >sma [arcsec]</text>
<text x="525.50" y="80.61" font-size="16.3" text-anchor="end" fill="#111" stroke="#111" stroke-width="0.3" >14</text>
<text x="525.50" y="106.59" font-size="16.3" text-anchor="end" fill="#111" stroke="#111" stroke-width="0.3" >16</text>
<text x="525.50" y="136.88" font-size="16.3" text-anchor="end" fill="#111" stroke="#111" stroke-width="0.3" >18</text>
<text x="525.50" y="167.16" font-size="16.3" text-anchor="end" fill="#111" stroke="#111" stroke-width="0.3" >20</text>
<text x="525.50" y="197.45" font-size="16.3" text-anchor="end" fill="#111" stroke="#111" stroke-width="0.3" >22</text>
<text x="525.50" y="227.73" font-size="16.3" text-anchor="end" fill="#111" stroke="#111" stroke-width="0.3" >24</text>
<text x="525.50" y="258.02" font-size="16.3" text-anchor="end" fill="#111" stroke="#111" stroke-width="0.3" >26</text>
<text x="525.50" y="283.70" font-size="16.3" text-anchor="end" fill="#111" stroke="#111" stroke-width="0.3" >28</text>
<text x="529.20" y="303.40" font-size="16.3" text-anchor="middle" fill="#111" stroke="#111" stroke-width="0.3" >0.1</text>
<text x="663.40" y="303.40" font-size="16.3" text-anchor="middle" fill="#111" stroke="#111" stroke-width="0.3" >1.0</text>
<text x="796.60" y="303.40" font-size="16.3" text-anchor="middle" fill="#111" stroke="#111" stroke-width="0.3" >10.0</text>
<text x="662.80" y="321.60" font-size="16.5" text-anchor="middle" fill="#111" stroke="#111" stroke-width="0.3" >sma [arcsec]</text>
<text x="0.00" y="0.00" font-size="16.5" text-anchor="middle" fill="#111" stroke="#111" stroke-width="0.3" transform="translate(52.4 282.5) rotate(-90)">μ</text>
<text x="0.00" y="0.00" font-size="16.5" text-anchor="middle" fill="#111" stroke="#111" stroke-width="0.3" transform="translate(494.8 175.9) rotate(-90)">μ</text>
<text x="0.00" y="0.00" font-size="16.5" text-anchor="middle" fill="#111" stroke="#111" stroke-width="0.3" transform="translate(55.2 584) rotate(-90)">Δ μ</text>
<path d="M275.3 80.4H327.9" stroke="#e04040" stroke-width="1"/>
<text x="347.50" y="80.60" font-size="17.8" text-anchor="start" fill="#d42020" stroke="#d42020" stroke-width="0.3" xml:space="preserve">DISK&#160;&#160;1.000</text>
<text x="7.40" y="706.00" font-size="8.15" text-anchor="start" fill="#222" stroke="#222" stroke-width="0.12" >/data/alan/fds2//data/alan/fds2/FDS13_0004_r2i_D_final.outgal_1dprof</text>
<text x="875.80" y="706.20" font-size="8.15" text-anchor="end" fill="#222" stroke="#222" stroke-width="0.12" >alan@&#160;&#160;Tue Nov 12 14:12:19 2019</text>
</svg></body></html>
